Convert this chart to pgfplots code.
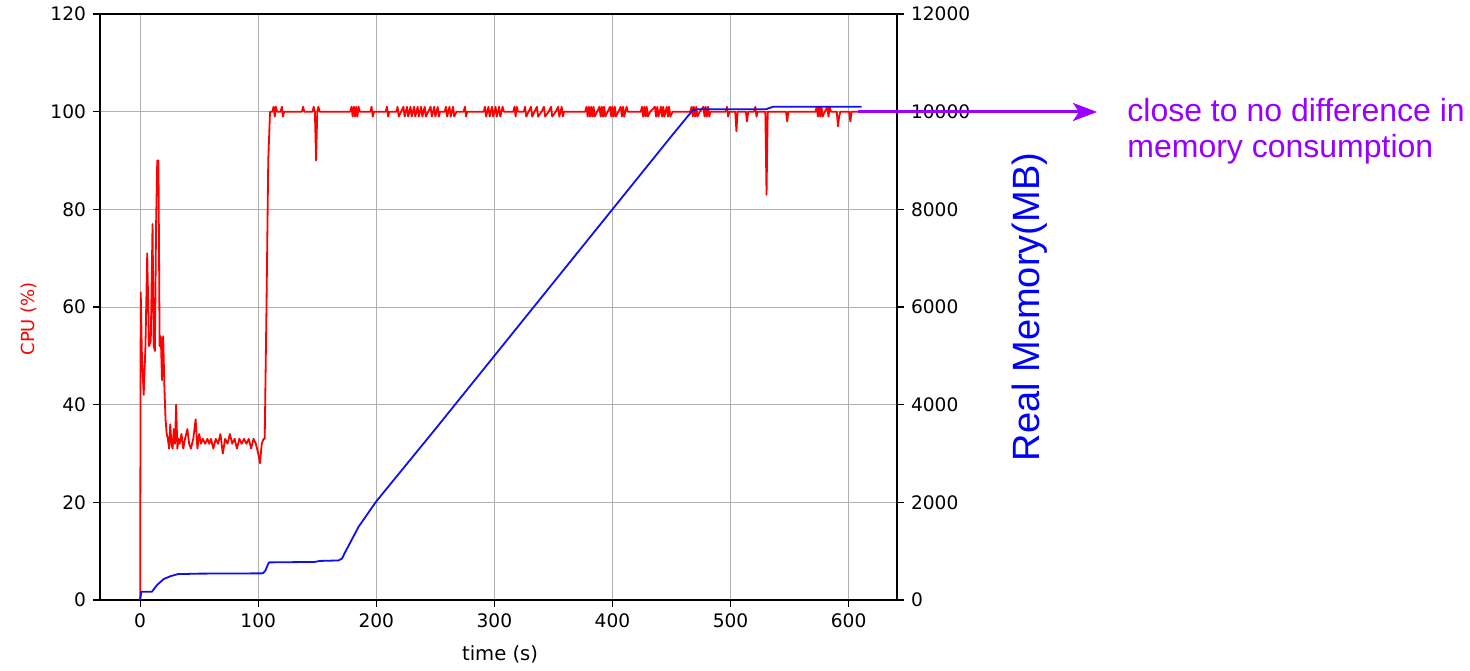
\documentclass[border=0pt]{standalone}
\usepackage{fontspec}
\setmainfont{DejaVu Sans}
\newfontfamily\arial{Liberation Sans}
\usepackage{pgfplots}
\pgfplotsset{compat=1.18}
\usetikzlibrary{arrows.meta}
\definecolor{annot}{HTML}{9900FF}
\definecolor{gridgray}{HTML}{B0B0B0}
\definecolor{memblue}{HTML}{1010E8}

\pgfplotsset{
  common/.style={
    at={(0pt,0pt)}, anchor=south west,
    width=398.5pt, height=293pt, scale only axis,
    xmin=-34, xmax=641,
    tick align=outside, major tick length=3.5pt,
    axis line style={line width=0.6pt},
    every tick/.style={black, line width=0.6pt},
    tick label style={font=\fontsize{9.3}{11}\selectfont},
    /pgf/number format/assume math mode=true,
    /pgf/number format/1000 sep={},
  }
}

\begin{document}
\begin{tikzpicture}
\path[use as bounding box] (-50pt,-35pt) rectangle (685pt,300pt);

% CPU on the left axis
\begin{axis}[
  common,
  ymin=0, ymax=120,
  xtick={0,100,...,600}, ytick={0,20,...,120},
  xtick pos=bottom, ytick pos=left,
  grid=major, major grid style={gridgray, line width=0.5pt},
  xlabel={time (s)}, ylabel={CPU (\%)},
  every axis x label/.style={at={(axis description cs:0.502,-0.1024)}, anchor=base,
    font=\fontsize{9.8}{11}\selectfont},
  every axis y label/.style={at={(axis description cs:-0.0816,0.48)}, anchor=base, rotate=90,
    text=red, font=\fontsize{9}{11}\selectfont},
]
\addplot[red, line width=0.9pt, line join=round] coordinates {
(0,0) (0.5,63) (1.5,50) (3,42) (4.5,52) (6,71) (7.5,52) (9,53) (10.5,77) (11.5,52)
(12.5,51) (13.5,77) (14.5,90) (15.5,90) (16.5,52) (17.5,54) (18.5,45) (19.5,54) (20.5,44)
(21.5,37) (22.5,34) (23.5,33) (24.5,31) (25.5,36) (26.5,32) (27.5,31) (28.5,35) (29.5,32)
(30.5,40) (31.5,31) (32.5,33) (33.5,32) (35,34) (36.5,31) (38,33) (40,35) (41.5,32) (43,31)
(45,33) (47,37) (48.5,31) (50,34) (51.5,32) (53,33) (55,32) (57,33) (58.5,32) (60,33)
(62,31) (64,33) (66,32) (68,34) (70,30) (72,33) (74,32) (76,34) (78,32) (80,33) (82,31)
(84,33) (86,32) (88,33) (90,32) (92,33) (94,31) (96,33) (98,32) (100,30) (101.5,28)
(103,32) (104.5,33) (105.5,33) (107,60) (108.5,90) (110,100)
(112,100) (113,101) (114,99) (115,101) (116,100) (119,100) (120,101) (121,99) (122,100)
(137,100) (138,101) (139,100) (146,100) (147,101) (148,100) (149,90) (150,100) (151,101) (152,100)
(178,100) (179,101) (180,99) (181,101) (182,99) (183,101) (184,99) (185,101) (186,100)
(195,100) (196,101) (197,99) (198,100)
(208,100) (209,101) (210,99) (211,100)
(217,100) (218,101) (219,99) (221,100) (223,101) (224,99) (226,101) (227,99) (229,101)
(230,99) (232,101) (233,99) (235,101) (236,99) (238,101) (239,99) (241,101) (242,99)
(244,100) (246,101) (247,99) (249,101) (250,99) (252,101) (253,99) (254,100)
(258,100) (259,101) (260,99) (262,101) (263,99) (265,101) (266,99) (268,100)
(274,100) (275,101) (276,99) (277,100)
(291,100) (292,101) (293,99) (295,101) (296,99) (298,101) (299,99) (301,101) (302,99)
(304,101) (305,99) (307,101) (308,100)
(316,100) (317,101) (318,99) (319,101) (320,100)
(325,100) (326,101) (327,99) (329,100) (331,101) (332,99) (334,100) (336,101) (337,99)
(340,100) (342,101) (343,99) (346,100) (348,101) (349,99) (352,100) (354,101) (355,99)
(357,101) (358,99) (359,100)
(377,100) (378,101) (379,99) (380,101) (381,99) (382,101) (383,99) (384,101) (385,99)
(387,100) (389,101) (390,99) (391,101) (392,99) (393,101) (394,99) (396,100) (398,101)
(399,99) (400,101) (401,99) (402,101) (403,99) (405,100) (407,101) (408,99) (409,101)
(410,99) (412,101) (413,100)
(424,100) (425,101) (426,99) (427,101) (428,99) (429,101) (430,99) (432,100) (436,101)
(437,99) (438,101) (439,99) (441,101) (442,99) (443,101) (444,99) (446,101) (447,99)
(448,101) (449,99) (451,100)
(466,100) (467,101) (468,99) (469,101) (470,99) (471,101) (472,99) (474,100) (477,101)
(478,99) (479,101) (480,99) (481,101) (482,99) (483,100)
(496,100) (497,101) (498,99) (499,100)
(504,100) (505,96) (506,100)
(513,100) (514,98) (515,100)
(520,100) (521,101) (522,99) (523,100)
(529.5,100) (530.5,83) (531.5,100)
(547,100) (548,98) (549,100)
(572,100) (573,101) (574,99) (575,101) (576,99) (577,101) (578,99) (580,100) (582,101)
(583,99) (584,101) (585,100)
(590,100) (591,97) (592,99) (593,100)
(600.5,100) (601.5,98) (602.5,100)
(610,100)
};
\end{axis}

% memory on the right axis
\begin{axis}[
  common,
  ymin=0, ymax=12000, ytick={0,2000,...,12000},
  scaled y ticks=false,
  axis x line=none, axis y line*=right,
  ylabel={\arial Real Memory(MB)},
  every axis y label/.style={at={(axis description cs:1.1794,0.5)}, anchor=base, rotate=90,
    text=blue, font=\fontsize{19}{22}\selectfont},
]
\addplot[memblue, line width=0.9pt, line join=round] coordinates {
(0,0) (1,170) (10,170) (14,300) (20,430) (26,490) (32,530) (50,540) (104,546)
(106,600) (109,770) (148,780) (152,800) (168,810) (171,850) (173,950) (185,1500)
(200,2020) (250,3500) (300,5000) (350,6500) (400,8000) (450,9500)
(468,10030) (472,10050) (530,10050) (536,10100) (611,10100)
};
\end{axis}

\draw[annot, line width=1.5pt, -{Stealth[length=12pt,width=9pt,inset=3pt]}]
  (379pt,244pt) -- (498.5pt,244pt);
\node[anchor=base west, inner sep=0pt, text=annot, font=\arial\fontsize{16}{18}\selectfont]
  at (513.5pt,239pt) {close to no difference in};
\node[anchor=base west, inner sep=0pt, text=annot, font=\arial\fontsize{16}{18}\selectfont]
  at (513.5pt,221pt) {memory consumption};
\end{tikzpicture}
\end{document}
